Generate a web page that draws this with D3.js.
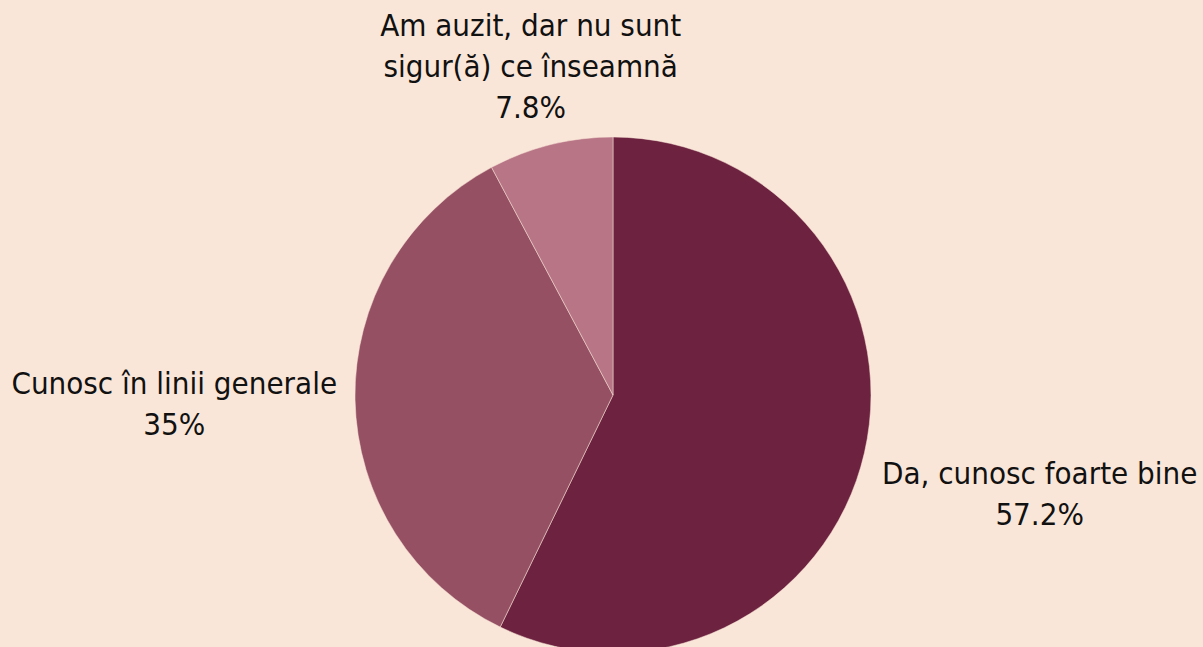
<!DOCTYPE html>
<html>
<head>
<meta charset="utf-8">
<script src="https://cdn.jsdelivr.net/npm/d3@7"></script>
<style>
  html, body { margin: 0; padding: 0; background: #fae6d8; }
  svg { display: block; }
</style>
</head>
<body>
<script>
const categories = [
    ['Da, cunosc foarte bine'],
    ['Cunosc în linii generale'],
    ['Am auzit, dar nu sunt', 'sigur(ă) ce înseamnă']
];
const values = [57.2, 35, 7.8];
const valueLabels = ['57.2%', '35%', '7.8%'];
const colors = ['#6d2340', '#955063', '#b77586'];

const width = 1203, height = 647;
const cx = 613, cy = 395, radius = 258;
const labelGap = 18, lineHeight = 41;

const svg = d3.select('body')
    .append('svg')
    .attr('width', width)
    .attr('height', height);

svg.append('rect')
    .attr('width', width)
    .attr('height', height)
    .attr('fill', '#fae6d8');

const pie = d3.pie().sort(null).value(d => d);
const arcs = pie(values);
const arc = d3.arc().innerRadius(0).outerRadius(radius);

const g = svg.append('g').attr('transform', `translate(${cx},${cy})`);

g.selectAll('path.slice')
    .data(arcs)
    .join('path')
    .attr('class', 'slice')
    .attr('d', arc)
    .attr('fill', (d, i) => colors[i])
    .attr('stroke', '#fae6d8')
    .attr('stroke-width', 0.5);

// labels: centred on the slice mid-angle ray, pushed out until the box clears the pie
arcs.forEach((a, i) => {
    const lines = categories[i].concat([valueLabels[i]]);
    const label = g.append('text')
        .attr('font-family', '"DejaVu Sans Condensed", "DejaVu Sans", sans-serif')
        .attr('font-size', 31)
        .attr('fill', '#111')
        .attr('text-anchor', 'middle');
    lines.forEach((t, j) => {
        label.append('tspan')
            .attr('x', 0)
            .attr('y', (j - (lines.length - 1) / 2) * lineHeight)
            .attr('dy', '0.35em')
            .text(t);
    });
    const w = label.node().getBBox().width;
    const h = lines.length * lineHeight;
    const mid = (a.startAngle + a.endAngle) / 2;
    const ux = Math.sin(mid), uy = -Math.cos(mid);
    const t = Math.min(
        Math.abs(ux) > 1e-6 ? (w / 2) / Math.abs(ux) : Infinity,
        Math.abs(uy) > 1e-6 ? (h / 2) / Math.abs(uy) : Infinity
    );
    const d = radius + labelGap + t;
    label.attr('transform', `translate(${ux * d},${uy * d})`);
});
</script>
</body>
</html>
